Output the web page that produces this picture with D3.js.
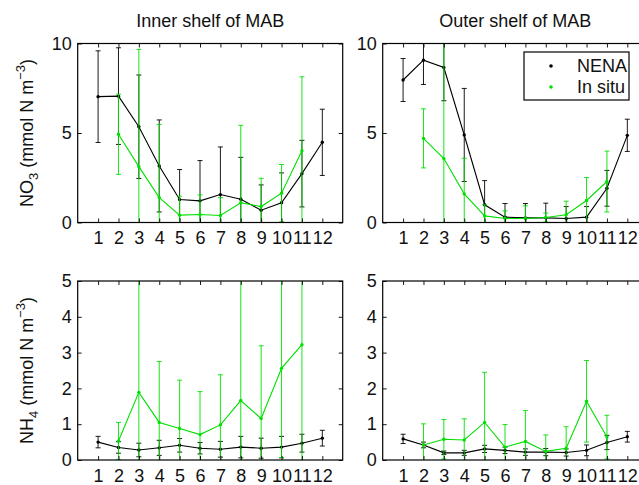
<!DOCTYPE html>
<html>
<head>
<meta charset="utf-8">
<script src="https://cdn.jsdelivr.net/npm/d3@7"></script>
<style>
  body { margin: 0; background: #fff; }
  text { font-family: "Liberation Sans", Arial, Helvetica, sans-serif; }
</style>
</head>
<body>
<div id="chart"></div>
<script>
// months on the x axis
const months = [1, 2, 3, 4, 5, 6, 7, 8, 9, 10, 11, 12];

// NO3, inner shelf
const no3InnerModel = [7.03, 7.06, 5.35, 3.16, 1.28, 1.21, 1.56, 1.30, 0.69, 1.10, 2.73, 4.48];
const no3InnerModelSd = [2.56, 2.70, 2.89, 2.57, 1.68, 2.25, 2.66, 2.34, 1.41, 1.67, 1.86, 1.85];
const no3InnerObs = [null, 4.93, 3.12, 1.39, 0.41, 0.45, 0.39, 1.10, 0.89, 1.64, 4.01, null];
const no3InnerObsSd = [null, 2.24, 6.55, 4.09, 1.06, 1.09, 1.00, 4.33, 1.58, 1.60, 4.13, null];

// NO3, outer shelf
const no3OuterModel = [7.96, 9.07, 8.66, 4.89, 0.99, 0.30, 0.26, 0.26, 0.22, 0.30, 1.91, 4.87];
const no3OuterModelSd = [1.20, 1.36, 1.86, 2.60, 1.35, 0.76, 0.80, 0.82, 0.67, 0.59, 1.00, 0.90];
const no3OuterObs = [null, 4.70, 3.57, 1.60, 0.37, 0.22, 0.22, 0.28, 0.43, 1.23, 2.29, null];
const no3OuterObsSd = [null, 1.65, 6.8, 1.99, 0.62, 0.43, 0.71, 0.25, 0.76, 1.28, 1.70, null];

// NH4, inner shelf
const nh4InnerModel = [0.50, 0.35, 0.28, 0.34, 0.41, 0.33, 0.30, 0.36, 0.33, 0.36, 0.47, 0.61];
const nh4InnerModelSd = [0.16, 0.16, 0.19, 0.21, 0.19, 0.16, 0.22, 0.30, 0.28, 0.30, 0.25, 0.22];
const nh4InnerObs = [null, 0.53, 1.89, 1.05, 0.88, 0.71, 0.98, 1.66, 1.16, 2.56, 3.22, null];
const nh4InnerObsSd = [null, 0.52, 3.5, 1.70, 1.35, 1.20, 1.40, 4.0, 2.03, 2.49, 3.6, null];

// NH4, outer shelf
const nh4OuterModel = [0.59, 0.42, 0.20, 0.20, 0.31, 0.27, 0.22, 0.22, 0.21, 0.27, 0.49, 0.65];
const nh4OuterModelSd = [0.13, 0.08, 0.05, 0.07, 0.10, 0.09, 0.09, 0.10, 0.10, 0.15, 0.20, 0.15];
const nh4OuterObs = [null, 0.42, 0.58, 0.56, 1.05, 0.36, 0.52, 0.24, 0.33, 1.64, 0.64, null];
const nh4OuterObsSd = [null, 0.59, 0.55, 0.59, 1.40, 0.63, 0.86, 0.46, 0.60, 1.14, 0.61, null];

const no3Ticks = [0, 5, 10];
const nh4Ticks = [0, 1, 2, 3, 4, 5];
const titles = ['Inner shelf of MAB', 'Outer shelf of MAB'];
const seriesNames = ['NENA', 'In situ'];

const width = 639, height = 485;
const colors = { model: '#000', obs: '#00e000' };

const svg = d3.select('#chart')
    .append('svg')
    .attr('width', width)
    .attr('height', height);

// panel layout
const panelW = 265, panelH = 179;
const cols = [77.7, 382.7];
const rows = [43.5, 281];

const panels = [
    { col: 0, row: 0, ymax: 10, ticks: no3Ticks, model: no3InnerModel, modelSd: no3InnerModelSd, obs: no3InnerObs, obsSd: no3InnerObsSd },
    { col: 1, row: 0, ymax: 10, ticks: no3Ticks, model: no3OuterModel, modelSd: no3OuterModelSd, obs: no3OuterObs, obsSd: no3OuterObsSd },
    { col: 0, row: 1, ymax: 5, ticks: nh4Ticks, model: nh4InnerModel, modelSd: nh4InnerModelSd, obs: nh4InnerObs, obsSd: nh4InnerObsSd },
    { col: 1, row: 1, ymax: 5, ticks: nh4Ticks, model: nh4OuterModel, modelSd: nh4OuterModelSd, obs: nh4OuterObs, obsSd: nh4OuterObsSd }
];

panels.forEach((p, i) => {
    const x0 = cols[p.col], y0 = rows[p.row];
    const x = d3.scaleLinear().domain([0, 13]).range([x0, x0 + panelW]);
    const y = d3.scaleLinear().domain([0, p.ymax]).range([y0 + panelH, y0]);

    const clipId = 'clip' + i;
    svg.append('clipPath').attr('id', clipId)
        .append('rect')
        .attr('x', x0).attr('y', y0)
        .attr('width', panelW).attr('height', panelH);

    const g = svg.append('g');
    const plot = g.append('g').attr('clip-path', `url(#${clipId})`);

    // draw a series: error bars, line, dots
    function drawSeries(vals, sds, color) {
        const pts = months.map((m, k) => ({ m, v: vals[k], sd: sds[k] }))
            .filter(d => d.v !== null);

        const bars = plot.append('g')
            .attr('stroke', color)
            .attr('stroke-width', 0.9)
            .selectAll('g')
            .data(pts)
            .enter()
            .append('g');
        bars.append('line')
            .attr('x1', d => x(d.m)).attr('x2', d => x(d.m))
            .attr('y1', d => y(d.v - d.sd)).attr('y2', d => y(d.v + d.sd));
        bars.append('line')
            .attr('x1', d => x(d.m) - 2.5).attr('x2', d => x(d.m) + 2.5)
            .attr('y1', d => y(d.v + d.sd)).attr('y2', d => y(d.v + d.sd));
        bars.append('line')
            .attr('x1', d => x(d.m) - 2.5).attr('x2', d => x(d.m) + 2.5)
            .attr('y1', d => y(d.v - d.sd)).attr('y2', d => y(d.v - d.sd));

        plot.append('path')
            .datum(pts)
            .attr('fill', 'none')
            .attr('stroke', color)
            .attr('stroke-width', 1.1)
            .attr('d', d3.line().x(d => x(d.m)).y(d => y(d.v)));

        plot.append('g')
            .selectAll('circle')
            .data(pts)
            .enter()
            .append('circle')
            .attr('cx', d => x(d.m))
            .attr('cy', d => y(d.v))
            .attr('r', 1.7)
            .attr('fill', color);
    }

    drawSeries(p.model, p.modelSd, colors.model);
    drawSeries(p.obs, p.obsSd, colors.obs);

    // axes, MATLAB style: ticks inside, box around
    g.append('g')
        .attr('transform', `translate(0,${y0 + panelH})`)
        .call(d3.axisBottom(x).tickValues(months).tickSizeInner(-4).tickSizeOuter(0).tickPadding(9).tickFormat(d3.format('d')));
    g.append('g')
        .attr('transform', `translate(0,${y0})`)
        .call(d3.axisTop(x).tickValues(months).tickSizeInner(-4).tickSizeOuter(0).tickFormat(''));
    g.append('g')
        .attr('transform', `translate(${x0},0)`)
        .call(d3.axisLeft(y).tickValues(p.ticks).tickSizeInner(-4).tickSizeOuter(0).tickPadding(6).tickFormat(d3.format('d')));
    g.append('g')
        .attr('transform', `translate(${x0 + panelW},0)`)
        .call(d3.axisRight(y).tickValues(p.ticks).tickSizeInner(-4).tickSizeOuter(0).tickFormat(''));

    g.selectAll('.domain').remove();
    g.selectAll('.tick line').attr('stroke', '#000').attr('stroke-width', 0.9);
    g.selectAll('.tick text')
        .attr('fill', '#111')
        .style('font-size', '18px')
        .style('font-family', '"Liberation Sans", Arial, sans-serif');

    g.append('rect')
        .attr('x', x0).attr('y', y0)
        .attr('width', panelW).attr('height', panelH)
        .attr('fill', 'none')
        .attr('stroke', '#000')
        .attr('stroke-width', 1.2);

    if (p.row === 0) {
        g.append('text')
            .attr('x', x0 + panelW / 2)
            .attr('y', 27)
            .attr('text-anchor', 'middle')
            .style('font-size', '18px')
            .attr('fill', '#111')
            .text(titles[p.col]);
    }

    if (p.col === 0) {
        const lab = g.append('text')
            .attr('transform', `translate(33,${y0 + panelH / 2}) rotate(-90)`)
            .attr('text-anchor', 'middle')
            .style('font-size', '18px')
            .attr('fill', '#111');
        lab.append('tspan').text(p.row === 0 ? 'NO' : 'NH');
        lab.append('tspan').attr('dy', 5).style('font-size', '13px').text(p.row === 0 ? '3' : '4');
        lab.append('tspan').attr('dy', -5).text(' (mmol N m');
        lab.append('tspan').attr('dy', -8).style('font-size', '13px').text('\u22123');
        lab.append('tspan').attr('dy', 8).text(')');
    }
});

// legend in the outer NO3 panel
const leg = svg.append('g');
leg.append('rect')
    .attr('x', 524).attr('y', 52)
    .attr('width', 105).attr('height', 48)
    .attr('fill', '#fff')
    .attr('stroke', '#000')
    .attr('stroke-width', 1.2);
[colors.model, colors.obs].forEach((c, k) => {
    leg.append('circle')
        .attr('cx', 551).attr('cy', 66 + k * 21)
        .attr('r', 1.8)
        .attr('fill', c);
    leg.append('text')
        .attr('x', 577).attr('y', 72 + k * 21)
        .style('font-size', '18px')
        .attr('fill', '#111')
        .text(seriesNames[k]);
});
</script>
</body>
</html>
